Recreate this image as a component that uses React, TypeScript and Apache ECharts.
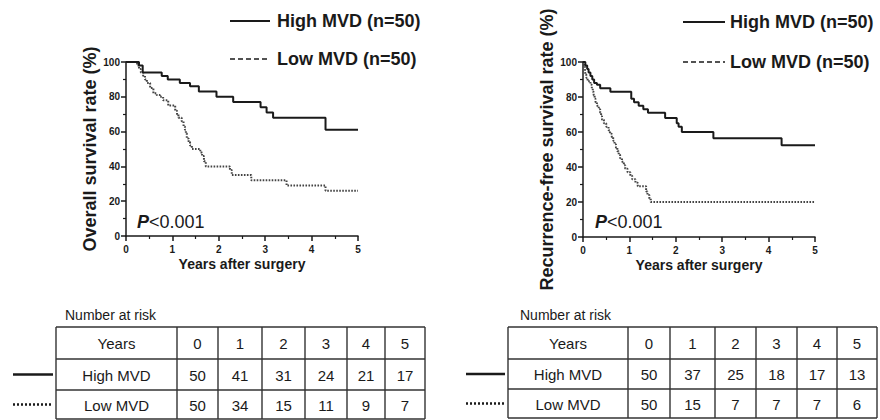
import React, { useEffect, useRef } from "react";
import * as echarts from "echarts";

// ---------- data ----------
const yearTicks = ["0", "1", "2", "3", "4", "5"];

// Overall survival (left panel)
const osHighT = [0, 0.28, 0.36, 0.77, 0.9, 1.16, 1.38, 1.57, 1.95, 2.31, 2.9, 3.03, 3.17, 4.3, 5];
const osHighS = [100, 98, 94, 92, 90, 88, 86, 83, 80, 77, 74, 71, 68, 61, 61];
const osLowT = [0, 0.24, 0.28, 0.32, 0.37, 0.41, 0.45, 0.52, 0.59, 0.66, 0.73, 0.8, 0.91, 1.06, 1.1, 1.13, 1.2, 1.24, 1.27, 1.29, 1.31, 1.35, 1.38, 1.42, 1.6, 1.64, 1.68, 1.72, 2.24, 2.28, 2.7, 3.46, 4.3, 5];
const osLowS = [100, 98, 96, 94, 92, 90, 88, 85, 82, 81, 80, 78, 75, 72, 70, 68, 66, 63, 61, 59, 56, 54, 52, 50, 48, 46, 43, 40, 38, 35, 32, 29, 26, 26];

// Recurrence-free survival (right panel)
const rfsHighT = [0, 0.05, 0.09, 0.12, 0.16, 0.2, 0.24, 0.3, 0.37, 0.59, 1.04, 1.1, 1.2, 1.3, 1.4, 1.77, 2.02, 2.06, 2.13, 2.81, 4.28, 5];
const rfsHighS = [100, 98, 96, 94, 92, 90, 88, 87, 85, 83, 79, 77, 75, 73, 71, 68, 65, 63, 60, 56.5, 52.5, 52.5];
const rfsLowT = [0, 0.02, 0.04, 0.05, 0.07, 0.1, 0.16, 0.19, 0.21, 0.23, 0.25, 0.27, 0.3, 0.34, 0.37, 0.39, 0.41, 0.45, 0.5, 0.55, 0.58, 0.62, 0.65, 0.68, 0.71, 0.74, 0.77, 0.8, 0.84, 0.88, 0.91, 0.96, 1.02, 1.06, 1.13, 1.18, 1.36, 1.39, 1.43, 1.46, 5];
const rfsLowS = [100, 98, 96, 93, 91, 89, 87, 85, 83, 81, 79, 77, 75, 73, 71, 69, 67, 65, 63, 61, 59, 57, 55, 53, 51, 49, 47, 45, 43, 41, 39, 37, 35, 33, 31, 29, 26, 24, 22, 20, 20];

// Number at risk
const riskYears = ["0", "1", "2", "3", "4", "5"];
const osRiskHigh = [50, 41, 31, 24, 21, 17];
const osRiskLow = [50, 34, 15, 11, 9, 7];
const rfsRiskHigh = [50, 37, 25, 18, 17, 13];
const rfsRiskLow = [50, 15, 7, 7, 7, 6];

const groupNames = ["High MVD", "Low MVD"];
const legendLabels = ["High MVD (n=50)", "Low MVD (n=50)"];
const pText = "<0.001";

// ---------- styling ----------
const FONT = "'Liberation Sans', Arial, Helvetica, sans-serif";
const INK = "#1a1a1a";

const pairs = (t: number[], s: number[]) => t.map((x, i) => [x, s[i]]);

function buildTable(
  cols: number[],
  rows: number[],
  highVals: number[],
  lowVals: number[],
  noteX: number,
  legX1: number,
  legX2: number
) {
  const els: any[] = [];
  const ls = { stroke: "#333", lineWidth: 1.4 };
  rows.forEach((y) =>
    els.push({ type: "line", shape: { x1: cols[0], y1: y, x2: cols[cols.length - 1], y2: y }, style: ls, silent: true })
  );
  cols.forEach((x) =>
    els.push({ type: "line", shape: { x1: x, y1: rows[0], x2: x, y2: rows[rows.length - 1] }, style: ls, silent: true })
  );
  const cellText = (text: string, ci: number, ri: number) => ({
    type: "text",
    silent: true,
    style: {
      text,
      x: (cols[ci] + cols[ci + 1]) / 2,
      y: (rows[ri] + rows[ri + 1]) / 2 + 0.5,
      textAlign: "center",
      textVerticalAlign: "middle",
      fontSize: 15,
      fontFamily: FONT,
      fill: INK,
    },
  });
  els.push(cellText("Years", 0, 0));
  els.push(cellText(groupNames[0], 0, 1));
  els.push(cellText(groupNames[1], 0, 2));
  riskYears.forEach((y, i) => els.push(cellText(y, i + 1, 0)));
  highVals.forEach((v, i) => els.push(cellText(String(v), i + 1, 1)));
  lowVals.forEach((v, i) => els.push(cellText(String(v), i + 1, 2)));
  els.push({
    type: "text",
    silent: true,
    style: {
      text: "Number at risk",
      x: noteX,
      y: 315,
      textAlign: "left",
      textVerticalAlign: "middle",
      fontSize: 14,
      fontFamily: FONT,
      fill: INK,
    },
  });
  const ym1 = (rows[1] + rows[2]) / 2;
  const ym2 = (rows[2] + rows[3]) / 2;
  els.push({ type: "line", silent: true, shape: { x1: legX1, y1: ym1, x2: legX2, y2: ym1 }, style: { stroke: INK, lineWidth: 2.6 } });
  els.push({
    type: "line",
    silent: true,
    shape: { x1: legX1, y1: ym2, x2: legX2, y2: ym2 },
    style: { stroke: INK, lineWidth: 2.4, lineDash: [2, 2] },
  });
  return els;
}

function buildLegend(x1: number, x2: number, tx: number, y1: number, y2: number) {
  const txt = (text: string, y: number) => ({
    type: "text",
    silent: true,
    style: {
      text,
      x: tx,
      y,
      textAlign: "left",
      textVerticalAlign: "middle",
      fontSize: 18,
      fontWeight: "bold",
      fontFamily: FONT,
      fill: INK,
    },
  });
  return [
    { type: "line", silent: true, shape: { x1, y1, x2, y2: y1 }, style: { stroke: INK, lineWidth: 2 } },
    txt(legendLabels[0], y1),
    { type: "line", silent: true, shape: { x1, y1: y2, x2, y2 }, style: { stroke: INK, lineWidth: 1.5, lineDash: [5, 3] } },
    txt(legendLabels[1], y2),
  ];
}

function pLabel(x: number, y: number) {
  return {
    type: "text",
    silent: true,
    style: {
      text: "{i|P}{n|" + pText + "}",
      x,
      y,
      textAlign: "left",
      textVerticalAlign: "middle",
      rich: {
        i: { fontSize: 18, fontStyle: "italic", fontWeight: "bold", fontFamily: FONT, fill: INK, color: INK },
        n: { fontSize: 18, fontFamily: FONT, fill: INK, color: INK },
      },
    },
  };
}

function makeYAxis(gridIndex: number, name: string, nameGap: number) {
  return {
    type: "value",
    gridIndex,
    min: 0,
    max: 100,
    interval: 20,
    axisLine: { show: true, lineStyle: { color: INK, width: 1.5 } },
    axisTick: { show: true, length: 5, inside: false, lineStyle: { color: INK, width: 1.5 } },
    minorTick: { show: true, splitNumber: 2, length: 3, lineStyle: { color: INK, width: 1.2 } },
    splitLine: { show: false },
    minorSplitLine: { show: false },
    axisLabel: { fontSize: 10, fontWeight: "bold", color: INK, margin: 6, fontFamily: FONT },
    name,
    nameLocation: "middle",
    nameGap,
    nameTextStyle: { fontSize: 18, fontWeight: "bold", color: INK, fontFamily: FONT },
  };
}

function makeXAxis(gridIndex: number) {
  return {
    type: "value",
    gridIndex,
    min: 0,
    max: 5,
    interval: 1,
    axisLine: { show: true, onZero: false, lineStyle: { color: INK, width: 1.5 } },
    axisTick: { show: true, length: 5, inside: false, lineStyle: { color: INK, width: 1.5 } },
    minorTick: { show: true, splitNumber: 2, length: 3, lineStyle: { color: INK, width: 1.2 } },
    splitLine: { show: false },
    minorSplitLine: { show: false },
    axisLabel: {
      fontSize: 10,
      fontWeight: "bold",
      color: INK,
      margin: 8,
      fontFamily: FONT,
      formatter: (v: number) => yearTicks[Math.round(v)] ?? String(v),
    },
    name: "Years after surgery",
    nameLocation: "middle",
    nameGap: 21,
    nameTextStyle: { fontSize: 14, fontWeight: "bold", color: INK, fontFamily: FONT },
  };
}

function kmSeries(name: string, idx: number, data: number[][], dotted: boolean) {
  return {
    type: "line",
    name,
    xAxisIndex: idx,
    yAxisIndex: idx,
    step: "end",
    symbol: "none",
    data,
    lineStyle: dotted
      ? { color: "#444", width: 2, type: [1.6, 1.4] }
      : { color: INK, width: 2 },
    z: dotted ? 2 : 3,
  };
}

export default function App() {
  const ref = useRef<HTMLDivElement>(null);
  useEffect(() => {
    if (!ref.current) return;
    const chart = echarts.init(ref.current, null, { renderer: "svg" });
    const graphic = [
      ...buildLegend(230, 270, 277, 21, 59),
      ...buildLegend(683, 725, 730, 22, 62),
      pLabel(137, 222),
      pLabel(595, 222),
      ...buildTable([56, 177, 218, 262, 305, 347, 385, 425], [327, 359, 390, 419], osRiskHigh, osRiskLow, 65, 13, 53),
      ...buildTable([508, 628, 670, 715, 756, 797, 837, 877], [327, 359, 389, 418], rfsRiskHigh, rfsRiskLow, 520, 466, 505),
    ];
    chart.setOption({
      animation: false,
      backgroundColor: "#ffffff",
      grid: [
        { left: 126, top: 62, width: 232, height: 174 },
        { left: 583, top: 62, width: 232, height: 175 },
      ],
      xAxis: [makeXAxis(0), makeXAxis(1)],
      yAxis: [makeYAxis(0, "Overall survival rate (%)", 25), makeYAxis(1, "Recurrence-free survival rate (%)", 26)],
      series: [
        kmSeries("High MVD OS", 0, pairs(osHighT, osHighS), false),
        kmSeries("Low MVD OS", 0, pairs(osLowT, osLowS), true),
        kmSeries("High MVD RFS", 1, pairs(rfsHighT, rfsHighS), false),
        kmSeries("Low MVD RFS", 1, pairs(rfsLowT, rfsLowS), true),
      ],
      graphic,
    });
    return () => chart.dispose();
  }, []);
  return (
    <div
      ref={ref}
      style={{ position: "fixed", left: 0, top: 0, width: 880, height: 420, background: "#fff" }}
    />
  );
}
